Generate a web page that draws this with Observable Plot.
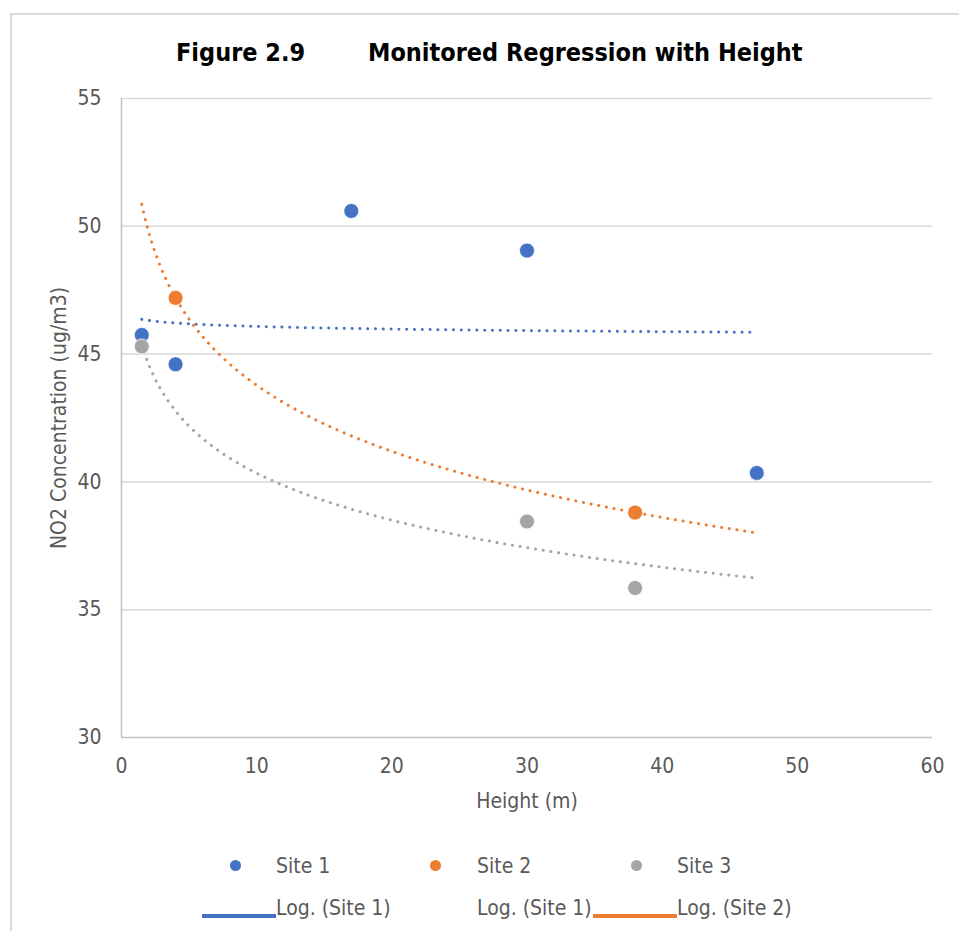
<!DOCTYPE html>
<html>
<head>
<meta charset="utf-8">
<script src="https://cdn.jsdelivr.net/npm/d3@7"></script>
<script src="https://cdn.jsdelivr.net/npm/@observablehq/plot@0.6"></script>
<style>
  html, body { margin: 0; padding: 0; background: #fff; }
  #wrap { position: relative; width: 959px; height: 931px; overflow: hidden;
          font-family: "DejaVu Sans Condensed", "DejaVu Sans", sans-serif; color: #595959; }
  #frame { position: absolute; left: 10px; top: 13px; width: 960px; height: 930px;
           border: 2px solid #D9D9D9; box-sizing: border-box; }
  .t { position: absolute; white-space: nowrap; }
  .title { font-weight: bold; font-size: 25px; color: #000; top: 38px; line-height: normal; }
  .leg { font-size: 21px; color: #595959; line-height: 24px; }
  #chart { position: absolute; left: 0; top: 0; }
</style>
</head>
<body>
<div id="wrap">
  <div id="frame"></div>
  <div id="chart"></div>
  <div class="t title" style="left:176px">Figure 2.9</div>
  <div class="t title" style="left:368px">Monitored Regression with Height</div>
  <div id="legend"></div>
</div>
<script>
// ---- data ----
const site1X = [1.5, 4, 17, 30, 47];
const site1Y = [45.75, 44.6, 50.6, 49.05, 40.35];
const site2X = [4, 38];
const site2Y = [47.2, 38.8];
const site3X = [1.5, 30, 38];
const site3Y = [45.3, 38.45, 35.85];
const seriesNames = ["Site 1", "Site 2", "Site 3"];
const seriesColors = ["#4472C4", "#ED7D31", "#A5A5A5"];
const trendRange = [1.5, 47];
const xTicks = [0, 10, 20, 30, 40, 50, 60];
const yTicks = [30, 35, 40, 45, 50, 55];

const sets = [[site1X, site1Y], [site2X, site2Y], [site3X, site3Y]];
const points = [];
sets.forEach(([xs, ys], i) => xs.forEach((x, j) => points.push({series: seriesNames[i], x, y: ys[j]})));

// logarithmic least-squares trendline (y = a + b ln x), as Excel computes it
function logFit(xs, ys) {
  const lx = xs.map(Math.log);
  const mx = d3.mean(lx), my = d3.mean(ys);
  let sxy = 0, sxx = 0;
  lx.forEach((v, i) => { sxy += (v - mx) * (ys[i] - my); sxx += (v - mx) * (v - mx); });
  const b = sxy / sxx, a = my - b * mx;
  return x => a + b * Math.log(x);
}
const trends = [];
sets.forEach(([xs, ys], i) => {
  const f = logFit(xs, ys);
  const n = 300;
  for (let k = 0; k <= n; k++) {
    const x = trendRange[0] + (trendRange[1] - trendRange[0]) * k / n;
    trends.push({series: seriesNames[i], x, y: f(x)});
  }
});

const font = '"DejaVu Sans Condensed", "DejaVu Sans", sans-serif';
const plot = Plot.plot({
  width: 959,
  height: 840,
  marginLeft: 121,
  marginRight: 27,
  marginTop: 98,
  marginBottom: 103,
  style: {fontFamily: font, fontSize: "21px", color: "#595959", background: "transparent", overflow: "visible"},
  x: {domain: [0, 60]},
  y: {domain: [30, 55]},
  color: {domain: seriesNames, range: seriesColors},
  marks: [
    Plot.ruleY(yTicks.filter(d => d > 30), {stroke: "#D9D9D9", strokeWidth: 1.5}),
    Plot.ruleX([0], {stroke: "#BFBFBF", strokeWidth: 1.5}),
    Plot.ruleY([30], {stroke: "#BFBFBF", strokeWidth: 1.5}),
    Plot.axisY({ticks: yTicks, tickSize: 0, tickPadding: 20, fontSize: 21, fill: "#595959",
      label: "NO2 Concentration (ug/m3)", labelAnchor: "center", labelArrow: "none", labelOffset: 70}),
    Plot.axisX({ticks: xTicks, tickSize: 0, tickPadding: 21, fontSize: 21, fill: "#595959",
      label: "Height (m)", labelAnchor: "center", labelArrow: "none", labelOffset: 70}),
    Plot.line(trends, {x: "x", y: "y", z: "series", stroke: "series", strokeWidth: 3,
      strokeDasharray: "0.1 7.7", strokeLinecap: "round", curve: "linear"}),
    Plot.dot(points, {x: "x", y: "y", fill: "series", r: 7.5, stroke: "white", strokeWidth: 0.8})
  ]
});
document.getElementById("chart").appendChild(plot);

// ---- legend (HTML with real text) ----
const legendRow1 = [
  {label: "Site 1", color: seriesColors[0], dot: 235, text: 276},
  {label: "Site 2", color: seriesColors[1], dot: 435, text: 477},
  {label: "Site 3", color: seriesColors[2], dot: 636, text: 677}
];
const legendRow2 = [
  {label: "Log. (Site 1)", color: seriesColors[0], line: [202, 276], text: 276},
  {label: "Log. (Site 1)", color: null, line: null, text: 477},
  {label: "Log. (Site 2)", color: seriesColors[1], line: [593, 677], text: 677}
];
const leg = document.getElementById("legend");
legendRow1.forEach(d => {
  const c = document.createElement("div");
  c.style.cssText = `position:absolute;left:${d.dot - 5.5}px;top:${865 - 5.5}px;width:11px;height:11px;border-radius:6px;background:${d.color}`;
  leg.appendChild(c);
  const t = document.createElement("div");
  t.className = "t leg"; t.textContent = d.label;
  t.style.left = d.text + "px"; t.style.top = "854px";
  leg.appendChild(t);
});
legendRow2.forEach(d => {
  if (d.line) {
    const l = document.createElement("div");
    l.style.cssText = `position:absolute;left:${d.line[0]}px;top:914px;width:${d.line[1] - d.line[0]}px;height:4px;background:${d.color}`;
    leg.appendChild(l);
  }
  const t = document.createElement("div");
  t.className = "t leg"; t.textContent = d.label;
  t.style.left = d.text + "px"; t.style.top = "896px";
  leg.appendChild(t);
});
</script>
</body>
</html>
